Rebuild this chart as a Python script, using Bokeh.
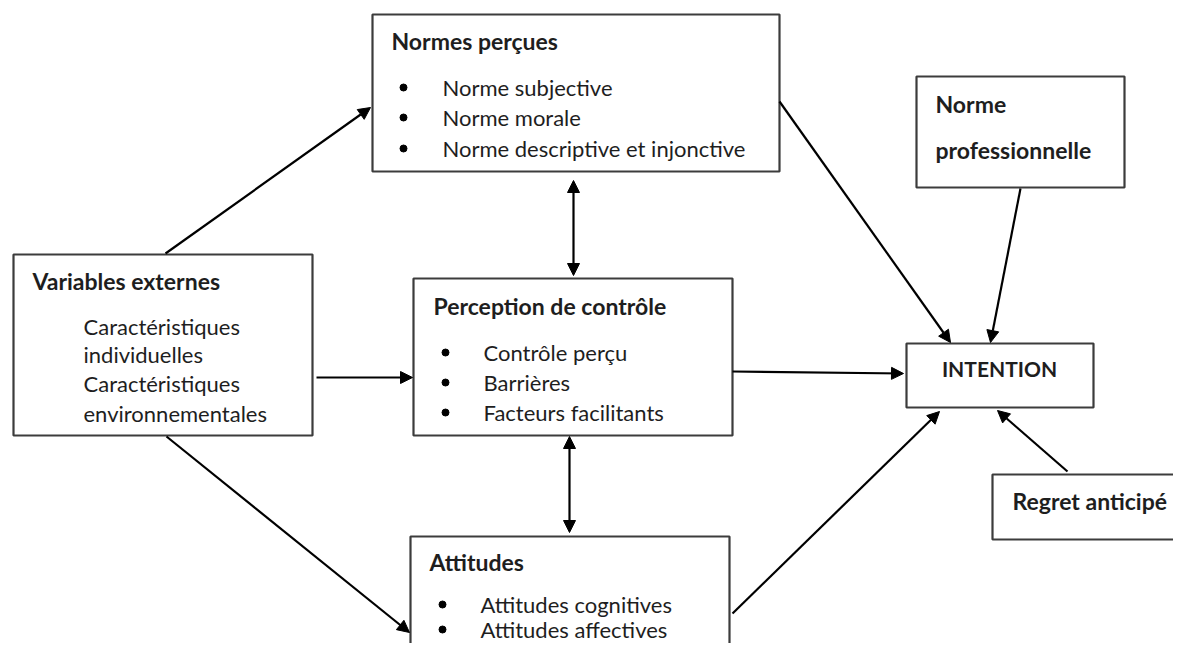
from bokeh.plotting import figure
from bokeh.models import Range1d, Arrow, NormalHead, ColumnDataSource
from bokeh.core.properties import value
from bokeh.embed import file_html
from bokeh.resources import INLINE

# ---- content ----
box_titles = ["Normes perçues", "Variables externes", "Perception de contrôle",
              "Attitudes", "Norme", "Regret anticipé"]
normes_items = ["Norme subjective", "Norme morale", "Norme descriptive et injonctive"]
controle_items = ["Contrôle perçu", "Barrières", "Facteurs facilitants"]
attitudes_items = ["Attitudes cognitives", "Attitudes affectives"]
externes_items = ["Caractéristiques", "individuelles", "Caractéristiques", "environnementales"]
prof_second = ["professionnelle"]
center_label = ["INTENTION"]

W, H = 1173, 643
p = figure(width=W, height=H, output_backend="svg", toolbar_location=None,
           x_range=Range1d(0, W), y_range=Range1d(H, 0),
           min_border=0)
p.axis.visible = False
p.grid.visible = False
p.outline_line_color = None
p.background_fill_color = "white"
p.border_fill_color = "white"

FONT = "Lato"
BOX_LINE = "#3c3c3c"
TXT = "#1e1e1e"

# boxes: left, right, top, bottom
boxes = {
    "normes": (372, 779, 14, 171),
    "externes": (13, 312, 254, 435),
    "controle": (413, 732, 278, 435),
    "attitudes": (410, 729, 536, 700),
    "prof": (916, 1124, 76, 187),
    "intention": (906, 1093, 343, 407),
    "regret": (992, 1200, 474, 539),
}
src = ColumnDataSource(dict(
    left=[b[0] for b in boxes.values()], right=[b[1] for b in boxes.values()],
    top=[b[2] for b in boxes.values()], bottom=[b[3] for b in boxes.values()]))
p.quad(left="left", right="right", top="top", bottom="bottom", source=src,
       fill_color="white", line_color=BOX_LINE, line_width=2.2)

# arrows
head = dict(size=12, fill_color="black", line_color="black")
arrows = [
    ((165, 253), (370, 107), False),
    ((316, 377), (412, 377), False),
    ((166, 436), (409, 632), False),
    ((573, 180), (573, 275), True),
    ((569, 436), (569, 532), True),
    ((779, 101), (950, 342), False),
    ((1020, 188), (990, 342), False),
    ((732, 371), (903, 373), False),
    ((732, 613), (939, 411), False),
    ((1067, 471), (997, 410), False),
]
for (x0, y0), (x1, y1), both in arrows:
    p.add_layout(Arrow(x_start=x0, y_start=y0, x_end=x1, y_end=y1,
                       line_width=2.2, line_color="black",
                       end=NormalHead(**head),
                       start=NormalHead(**head) if both else None))

TS = "23px"
IS = "22px"

def title(x, y, t, align="left", size=TS):
    p.text(x=[x], y=[y], text=[t], text_font=value(FONT), text_font_style="bold",
           text_font_size=size, text_color=TXT, text_baseline="middle", text_align=align)

def items(xb, xt, ys, labels, bullets=True):
    if bullets:
        p.scatter(x=[xb] * len(ys), y=ys, size=7, color="black")
    p.text(x=[xt] * len(ys), y=ys, text=labels, text_font=value(FONT),
           text_font_size=IS, text_color=TXT, text_baseline="middle", text_align="left")

title(391, 40, box_titles[0])
items(403, 442, [87, 117, 148], normes_items)

title(32, 280, box_titles[1])
items(0, 83, [326, 354, 383, 413], externes_items, bullets=False)

title(433, 305, box_titles[2])
items(445, 483, [352, 382, 412], controle_items)

title(429, 561, box_titles[3])
items(442, 480, [604, 629], attitudes_items)

title(935, 103, box_titles[4])
title(935, 149, prof_second[0])

title(999, 368, center_label[0], align="center", size="21px")
title(1012, 500, box_titles[5])

open("out.html", "w").write(file_html(p, INLINE))
